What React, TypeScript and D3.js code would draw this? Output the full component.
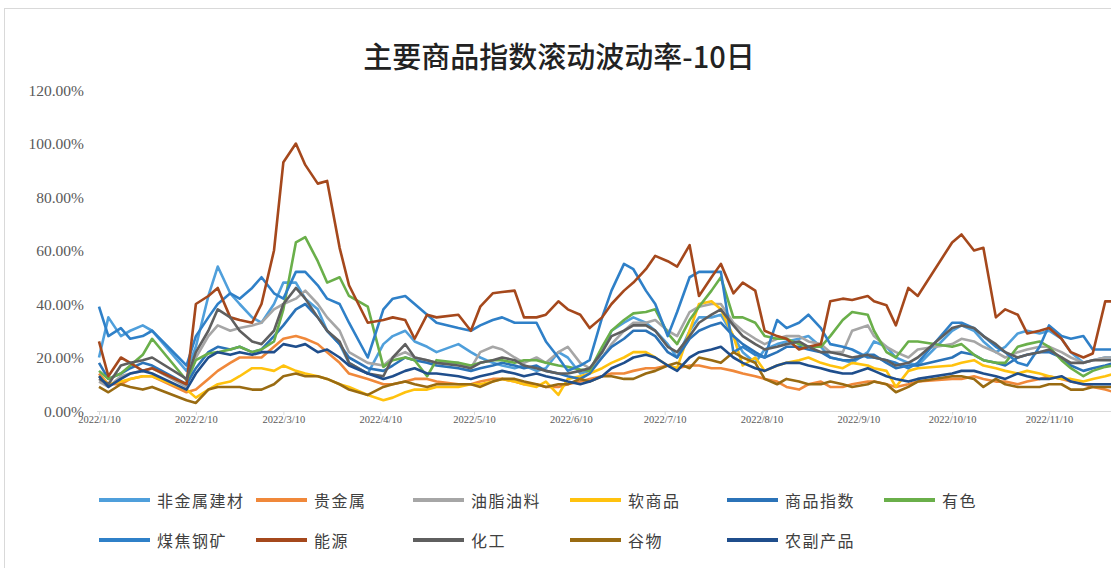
import React, { useEffect, useRef } from 'react';
import * as d3 from 'd3';

// sample dates (roughly two per week, holidays skipped)
const dates = [
  '2022-01-10', '2022-01-13', '2022-01-17', '2022-01-20', '2022-01-24', '2022-01-27',
  '2022-02-07', '2022-02-10', '2022-02-14', '2022-02-17', '2022-02-21', '2022-02-24', '2022-02-28',
  '2022-03-03', '2022-03-07', '2022-03-10', '2022-03-14', '2022-03-17', '2022-03-21', '2022-03-24', '2022-03-28', '2022-03-31',
  '2022-04-06', '2022-04-11', '2022-04-14', '2022-04-18', '2022-04-21', '2022-04-25', '2022-04-28',
  '2022-05-05', '2022-05-09', '2022-05-12', '2022-05-16', '2022-05-19', '2022-05-23', '2022-05-26', '2022-05-30',
  '2022-06-02', '2022-06-06', '2022-06-09', '2022-06-13', '2022-06-16', '2022-06-20', '2022-06-23', '2022-06-27', '2022-06-30',
  '2022-07-04', '2022-07-07', '2022-07-11', '2022-07-14', '2022-07-18', '2022-07-21', '2022-07-25', '2022-07-28',
  '2022-08-01', '2022-08-04', '2022-08-08', '2022-08-11', '2022-08-15', '2022-08-18', '2022-08-22', '2022-08-25', '2022-08-29',
  '2022-09-01', '2022-09-05', '2022-09-08', '2022-09-13', '2022-09-15', '2022-09-19', '2022-09-22', '2022-09-26', '2022-09-29',
  '2022-10-10', '2022-10-13', '2022-10-17', '2022-10-20', '2022-10-24', '2022-10-27', '2022-10-31',
  '2022-11-03', '2022-11-07', '2022-11-10', '2022-11-14', '2022-11-17', '2022-11-21', '2022-11-24', '2022-11-28',
  '2022-12-01',
];

// values in %
const nonMetal = [
  20, 35, 28, 30, 32, 30,
  15, 24, 43, 54, 44, 40, 35,
  33, 40, 48, 48, 42, 38, 30, 25, 18,
  14, 25, 28, 30, 26, 24, 22,
  25, 22, 20, 18, 17, 16, 17, 15,
  16, 22, 20, 14, 15, 22, 30, 33, 35,
  33, 30, 25, 20, 30, 35, 35, 36,
  28, 22, 18, 23, 25, 26, 27, 28, 24,
  20, 19, 18, 22, 26, 24, 20, 18, 17,
  30, 32, 30, 26, 22, 24, 29,
  30, 29, 30, 27, 22, 18, 19, 20,
  20,
];
const preciousMetal = [
  14, 10, 10, 12, 13, 13,
  7, 8, 12, 15, 18, 20, 20,
  20, 24, 27, 28, 27, 25, 22, 18, 14,
  12, 10, 10, 11, 12, 12, 11,
  10, 10, 11, 12, 12, 11, 10, 10,
  9, 9, 10, 11, 12, 13, 14, 14, 15,
  16, 16, 17, 16, 17, 17, 16, 16,
  15, 14, 13, 12, 11, 9, 8, 10, 11,
  9, 9, 10, 11, 11, 10, 9, 10, 11,
  12, 12, 13, 12, 11, 11, 10,
  11, 12, 13, 12, 11, 10, 9, 8,
  7,
];
const oilseeds = [
  11, 9, 13, 14, 15, 16,
  9, 20, 28, 32, 30, 31, 32,
  33, 38, 40, 42, 45, 40, 35, 30, 22,
  18, 17, 20, 22, 20, 19, 18,
  18, 16, 22, 24, 23, 20, 18, 20,
  18, 22, 24, 18, 16, 20, 25, 30, 33,
  33, 34, 30, 28, 37, 39, 40, 40,
  33, 30, 27, 25, 27, 28, 28, 26, 25,
  22, 22, 30, 32, 28, 24, 22, 20, 23,
  25, 27, 26, 24, 22, 20, 22,
  23, 24, 24, 22, 20, 18, 19, 20,
  20,
];
const softs = [
  13, 10, 11, 12, 13, 13,
  8, 5, 8, 10, 11, 13, 16,
  16, 15, 17, 15, 14, 13, 12, 10, 9,
  6, 4, 5, 7, 8, 8, 9,
  9, 10, 10, 11, 12, 11, 10, 9,
  11, 6, 12, 13, 14, 16, 18, 20, 22,
  22, 20, 17, 16, 30, 40, 41, 38,
  28, 17, 20, 15, 17, 18, 19, 20, 18,
  17, 16, 18, 17, 16, 15, 9, 15, 16,
  17, 18, 19, 17, 16, 15, 14,
  15, 14, 13, 12, 12, 11, 12, 13,
  14,
];
const index = [
  18, 12, 14, 16, 18, 17,
  10, 16, 22, 24, 23, 24, 22,
  23, 28, 32, 38, 40, 35, 30, 25, 20,
  16, 15, 17, 20, 19, 18, 17,
  16, 15, 16, 17, 18, 17, 16, 17,
  15, 14, 13, 12, 14, 20, 24, 27, 30,
  30, 28, 22, 20, 27, 30, 32, 33,
  28, 25, 22, 20, 22, 24, 24, 23, 22,
  20, 19, 19, 21, 21, 18, 16, 17, 17,
  20, 22, 21, 19, 18, 17, 20,
  21, 22, 22, 20, 17, 15, 16, 17,
  18,
];
const nonFerrous = [
  15, 12, 14, 17, 21, 27,
  11.5, 19, 21.5, 22, 23, 24, 22,
  23, 26, 38, 63, 65, 56, 48, 50, 43,
  39, 16.5, 19, 20, 19, 13, 19,
  18, 17, 18, 19, 19, 18, 19, 19,
  18, 17, 16.5, 15.5, 15, 24, 30, 34, 36.5,
  37, 38, 29, 25, 34, 39, 45, 50,
  35, 35, 33, 28, 27, 27, 25, 24, 24,
  28, 34, 37, 36, 30, 22, 20, 26, 26,
  24, 25, 21, 19, 18, 18, 24,
  25, 26, 24, 19, 16, 13, 15, 16.5,
  17,
];
const coalSteel = [
  39, 28, 31, 27, 28, 30,
  17, 28, 35, 40, 44, 42, 46,
  50, 44, 42, 52, 52, 47, 42, 40, 33,
  20, 38, 42, 43, 40, 36, 33,
  31, 30, 32, 34, 35, 33, 33, 33,
  26, 20, 15, 17, 19, 35, 45, 55, 53,
  45, 40, 28, 37, 50, 52, 52, 52,
  22, 24, 21, 20, 34, 31, 33, 36, 31,
  25, 24, 23, 20, 20, 19, 18, 16, 18,
  33, 33, 31, 28, 24, 22, 18,
  17, 24, 32, 28, 27, 28, 23, 23,
  23,
];
const energy = [
  26, 13, 20, 18, 15, 16,
  10, 40, 43, 46, 35, 34, 33,
  40, 60, 93, 100, 92, 85, 86, 61, 47,
  33, 34, 35, 34, 27, 36, 35,
  36, 30, 39, 44, 44.5, 45, 35, 35,
  36, 41, 38, 36, 31, 35, 40, 45, 48,
  53, 58, 56, 54, 62, 43, 50, 55,
  44, 48, 45, 30, 28, 27, 23, 24, 25,
  41, 42, 41.5, 43, 41, 39.5, 32, 46, 43,
  63, 66, 60, 61, 35, 38, 36,
  29, 30, 31, 27, 22, 20, 21.5, 41,
  41,
];
const chemicals = [
  12, 10, 17, 18, 19, 20,
  12, 22, 30, 38, 35, 30, 26,
  25, 30, 40, 46, 42, 35, 30, 26, 18,
  14, 13, 20, 25, 20, 19, 18,
  17, 16, 18, 19, 20, 19, 17, 16,
  15, 14, 14, 15, 16, 22, 28, 30, 32,
  32, 30, 24, 22, 28, 33, 36, 38,
  32, 28, 25, 23, 24, 25, 26, 24, 22,
  22, 21, 20, 21, 20, 19, 17, 18, 20,
  31, 32, 31, 28, 25, 22, 20,
  21, 22, 23, 20, 18, 18, 19, 19,
  19,
];
const grains = [
  9, 7, 10, 9, 8, 9,
  4, 3, 8, 9, 9, 9, 8,
  8, 10, 13, 14, 13, 13, 12, 10, 8,
  6, 9, 10, 11, 10, 9, 10,
  10, 10, 9, 11, 12, 12, 11, 10,
  9, 10, 10, 12, 11, 13, 13, 12, 12,
  14, 15, 17, 18, 16, 20, 19, 18,
  22, 20, 18, 12, 10, 12, 11, 10, 10,
  11, 10, 9, 10, 11, 10, 7, 9, 11,
  13, 13, 12, 9, 12, 10, 9,
  9, 9, 10, 10, 8, 8, 9, 9,
  9,
];
const agriProducts = [
  13, 9, 12, 14, 15, 14,
  8, 14, 20, 22, 21, 22, 21,
  22, 22, 25, 24, 25, 22, 23, 20, 17,
  14, 12, 13, 15, 16, 14, 14,
  13, 12, 13, 14, 15, 14, 13, 14,
  13, 12, 11, 10, 11, 13, 16, 18, 20,
  21, 20, 17, 15, 20, 22, 23, 24,
  20, 18, 16, 15, 17, 18, 18, 17, 16,
  15, 14, 14, 16, 15, 13, 12, 11, 12,
  14, 15, 15, 14, 13, 12, 14,
  13, 12, 12, 13, 11, 10, 10, 10,
  10,
];

const seriesNames = ['非金属建材', '贵金属', '油脂油料', '软商品', '商品指数', '有色', '煤焦钢矿', '能源', '化工', '谷物', '农副产品'];
const seriesValues = [nonMetal, preciousMetal, oilseeds, softs, index, nonFerrous, coalSteel, energy, chemicals, grains, agriProducts];
const seriesColors = ['#4f9fdb', '#f0883a', '#a6a6a6', '#ffc20e', '#2b73b8', '#6aaf4a', '#2f80c8', '#a5481c', '#5f5f5f', '#996b12', '#1f4e8c'];

const yTicks = [0, 20, 40, 60, 80, 100, 120];
const xTickLabels = ['2022/1/10', '2022/2/10', '2022/3/10', '2022/4/10', '2022/5/10', '2022/6/10', '2022/7/10', '2022/8/10', '2022/9/10', '2022/10/10', '2022/11/10'];

export default function App() {
  const svgRef = useRef<SVGSVGElement>(null);

  useEffect(() => {
    const w = 1111;
    const h = 568;
    const svg = d3.select(svgRef.current);
    svg.selectAll('*').remove();

    svg.append('rect').attr('width', w).attr('height', h).attr('fill', '#fff');
    // outer chart frame
    svg.append('rect')
      .attr('x', 4.5).attr('y', 8.5)
      .attr('width', 1130).attr('height', 600)
      .attr('fill', 'none').attr('stroke', '#d9d9d9');

    const parseDay = d3.timeParse('%Y-%m-%d');
    const parseTick = d3.timeParse('%Y/%m/%d');

    const xScale = d3.scaleTime()
      .domain([parseDay('2022-01-10')!, parseDay('2022-11-10')!])
      .range([99, 1049]);
    const yScale = d3.scaleLinear().domain([0, 120]).range([411, 90]);

    svg.append('text')
      .attr('x', 559).attr('y', 55)
      .attr('text-anchor', 'middle')
      .attr('dominant-baseline', 'central')
      .attr('font-family', '"Noto Sans CJK SC", sans-serif')
      .attr('font-size', 29)
      .attr('font-weight', 500)
      .attr('fill', '#222')
      .text('主要商品指数滚动波动率-10日');

    // y labels
    svg.append('g')
      .selectAll('text')
      .data(yTicks)
      .enter()
      .append('text')
      .attr('x', 84)
      .attr('y', d => yScale(d))
      .attr('text-anchor', 'end')
      .attr('dominant-baseline', 'central')
      .attr('font-family', '"Liberation Serif", serif')
      .attr('font-size', 15.5)
      .attr('fill', '#595959')
      .text(d => d.toFixed(2) + '%');

    // x axis
    const xAxis = d3.axisBottom(xScale)
      .tickValues(xTickLabels.map(t => parseTick(t)!))
      .tickFormat((d, i) => xTickLabels[i])
      .tickSizeInner(4)
      .tickSizeOuter(0);
    const gx = svg.append('g')
      .attr('transform', `translate(0,${yScale(0)})`)
      .call(xAxis);
    gx.select('.domain').attr('d', `M97,0.5H1111`).attr('stroke', '#d9d9d9');
    gx.selectAll('.tick line').attr('stroke', '#d9d9d9');
    gx.selectAll('.tick text')
      .attr('font-family', '"Liberation Serif", serif')
      .attr('font-size', 10.5)
      .attr('fill', '#595959')
      .attr('dy', '0.5em');

    const parsed = dates.map(d => parseDay(d)!);
    const line = d3.line<number>()
      .x((d, i) => xScale(parsed[i]))
      .y(d => yScale(d));

    svg.append('g')
      .selectAll('path')
      .data(seriesValues)
      .enter()
      .append('path')
      .attr('d', d => line(d))
      .attr('fill', 'none')
      .attr('stroke', (d, i) => seriesColors[i])
      .attr('stroke-width', 2.6)
      .attr('stroke-linejoin', 'round');

    // legend, 6 per row
    const lg = svg.append('g');
    seriesNames.forEach((name, i) => {
      const col = i % 6;
      const row = Math.floor(i / 6);
      const lx = 99 + col * 157;
      const ly = 500 + row * 40;
      lg.append('line')
        .attr('x1', lx).attr('x2', lx + 51)
        .attr('y1', ly).attr('y2', ly)
        .attr('stroke', seriesColors[i])
        .attr('stroke-width', 4);
      lg.append('text')
        .attr('x', lx + 58).attr('y', ly)
        .attr('dominant-baseline', 'central')
        .attr('font-family', '"Noto Sans CJK SC", sans-serif')
        .attr('font-size', 16)
        .attr('letter-spacing', 1.5)
        .attr('fill', '#404040')
        .text(name);
    });
  }, []);

  return (
    <div style={{ position: 'absolute', left: 0, top: 0 }}>
      <svg ref={svgRef} width={1111} height={568} style={{ display: 'block' }} />
    </div>
  );
}
